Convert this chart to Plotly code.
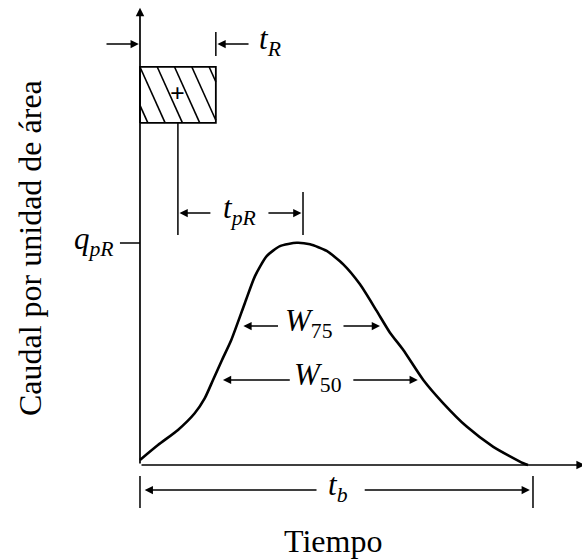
import plotly.graph_objects as go

# ---- data (time units, discharge relative to q_pR) ----
time_h = [0, 0.458, 0.967, 1.392, 1.646, 1.858, 2.087, 2.323, 2.672, 2.926, 3.224,
          3.562, 3.987, 4.326, 4.751, 5.173, 5.598, 6.023, 6.361, 6.700, 7.209, 7.718,
          8.313, 8.990, 9.753, 9.873]
q_unit = [0.023, 0.090, 0.158, 0.233, 0.300, 0.383, 0.473, 0.563, 0.731, 0.851, 0.941,
          0.986, 1.001, 0.994, 0.964, 0.904, 0.814, 0.694, 0.596, 0.518, 0.383, 0.278,
          0.173, 0.082, 0.008, 0.0]

t_R = 1.93            # rainfall duration
rain_low = 1.541      # rainfall block bottom
rain_high = 1.793     # rainfall block top
t_peak = 4.148
q_pR = 1.0
t_b = 10.0
w75_level, w75_left, w75_right = 0.626, 2.63, 6.107
w50_level, w50_left, w50_right = 0.383, 2.11, 7.07

SUB = "<sub>{}</sub>"
labels = {
    "tR": "<i>t</i>" + SUB.format("<i>R</i>"),
    "tpR": "<i>t</i>" + SUB.format("<i>pR</i>"),
    "qpR": "<i>q</i>" + SUB.format("<i>pR</i>"),
    "W75": "<i>W</i>" + SUB.format("75"),
    "W50": "<i>W</i>" + SUB.format("50"),
    "tb": "<i>t</i>" + SUB.format("<i>b</i>"),
    "x": "Tiempo",
    "y": "Caudal por unidad de área",
}

FONT = "Liberation Serif"
BLACK = "black"

fig = go.Figure()

# hydrograph
fig.add_trace(go.Scatter(x=time_h, y=q_unit, mode="lines",
                         line=dict(color=BLACK, width=2.6, shape="spline", smoothing=0.6),
                         hoverinfo="skip", showlegend=False))

# rainfall block outline
rain_t = t_R / 2
fig.add_trace(go.Scatter(x=[0, t_R, t_R, 0, 0], y=[rain_low, rain_low, rain_high, rain_high, rain_low],
                         mode="lines", line=dict(color=BLACK, width=1.8), hoverinfo="skip", showlegend=False))

# hatch lines inside rainfall block (steep diagonal, down-right)
hx, hy = [], []
slope = 2.54  # time per unit discharge along hatch
spacing = 0.44
for k in range(-3, 6):
    t0 = k * spacing
    if t0 > t_R:
        break
    n = 400
    seg = []
    for i in range(n + 1):
        q = rain_high - (rain_high - rain_low) * i / n
        t = t0 + slope * (rain_high - q)
        if 0 <= t <= t_R:
            seg.append((t, q))
    if len(seg) > 1:
        hx += [seg[0][0], seg[-1][0], None]
        hy += [seg[0][1], seg[-1][1], None]
fig.add_trace(go.Scatter(x=hx, y=hy, mode="lines", line=dict(color=BLACK, width=1.6),
                         hoverinfo="skip", showlegend=False))

# vertical guide lines and ticks
vx = [rain_t, rain_t, None, t_peak, t_peak, None, t_R, t_R, None, 0, 0, None, t_b, t_b, None, -0.51, 0]
vy = [rain_low, 1.036, None, 1.23, 1.036, None, 1.95, 1.842, None, -0.05, -0.194, None, -0.05, -0.194, None, q_pR, q_pR]
fig.add_trace(go.Scatter(x=vx, y=vy, mode="lines", line=dict(color=BLACK, width=1.5),
                         hoverinfo="skip", showlegend=False))

ann = []

def arrow(x_head, y_head, x_tail, y_tail, width=1.5, size=1.1):
    ann.append(dict(x=x_head, y=y_head, ax=x_tail, ay=y_tail, xref="x", yref="y", axref="x", ayref="y",
                    text="", showarrow=True, arrowhead=2, arrowsize=size, arrowwidth=width,
                    arrowcolor=BLACK, standoff=0, startstandoff=0))

def label(x, y, text, size=32, xanchor="center", angle=0):
    ann.append(dict(x=x, y=y, xref="x", yref="y", text=text, showarrow=False, xanchor=xanchor,
                    yanchor="middle", textangle=angle, font=dict(family=FONT, size=size, color=BLACK)))

# axes
arrow(0, 2.06, 0, 0, width=1.7, size=1.0)
arrow(11.32, 0, 0, 0, width=1.7, size=1.0)

# t_R
arrow(-0.03, 1.896, -0.89, 1.896)
arrow(t_R + 0.04, 1.896, 2.8, 1.896)
label(2.98, 1.91, labels["tR"], xanchor="left", size=31)

# t_pR
arrow(rain_t + 0.04, 1.135, 1.83, 1.135)
arrow(t_peak - 0.04, 1.135, 3.23, 1.135)
label(2.54, 1.15, labels["tpR"], size=31)

# q_pR
label(-0.62, 1.01, labels["qpR"], xanchor="right", size=31)

# W75
arrow(w75_left, w75_level, 3.55, w75_level)
arrow(w75_right, w75_level, 5.14, w75_level)
label(4.3, 0.64, labels["W75"], size=31)

# W50
arrow(w50_left, w50_level, 3.85, w50_level)
arrow(w50_right, w50_level, 5.39, w50_level)
label(4.52, 0.395, labels["W50"], size=31)

# t_b
arrow(0.12, -0.113, 4.53, -0.113)
arrow(t_b - 0.08, -0.113, 5.68, -0.113)
label(5.05, -0.10, labels["tb"], size=31)

# axis titles
label(4.91, -0.342, labels["x"], size=32)
label(-2.8, 0.977, labels["y"], size=32, angle=-90)

# plus sign in block
label(rain_t, 1.675, "<b>+</b>", size=26)

fig.update_layout(
    width=582, height=559,
    margin=dict(l=0, r=0, t=0, b=0),
    paper_bgcolor="white", plot_bgcolor="white",
    xaxis=dict(range=[-3.562, 11.247], visible=False, fixedrange=True),
    yaxis=dict(range=[-0.4234, 2.0946], visible=False, fixedrange=True),
    annotations=ann,
    showlegend=False,
)

fig.write_html("out.html")
